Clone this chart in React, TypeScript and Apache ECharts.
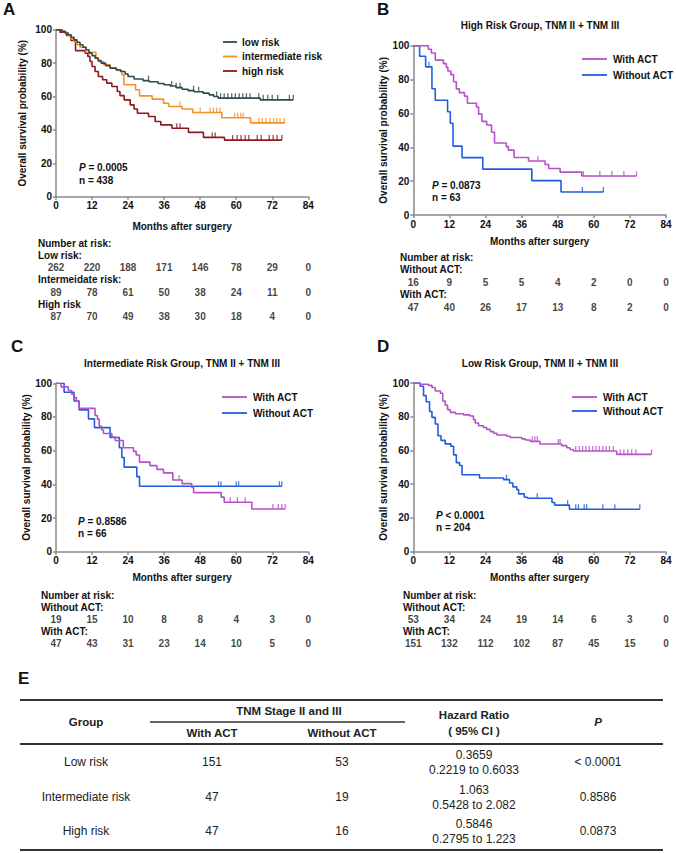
import React, { useEffect, useRef } from 'react';
import * as echarts from 'echarts';

const FONT = '"Liberation Sans", Arial, Helvetica, sans-serif';

// ---------- data ----------
const riskMonths = [0, 12, 24, 36, 48, 60, 72, 84];

// Panel A
const lowRiskCurve: number[][] = [[0,100],[1.9,99],[3,98],[4,97],[5,95.5],[6,94],[7,92.5],[8,91],[9,89.5],[10,88],[11,86],[12,84.5],[13,83],[14,81.5],[15,80],[16.5,78.5],[18,77],[20,76],[21.5,75],[23,73.5],[24,72],[26,70.5],[29,69.5],[31,68.8],[34,67.8],[36,67],[38,66.3],[40,65.3],[42,64.3],[44,63.5],[46,62.8],[49,62],[51,61],[52.5,60],[54,59],[68,58],[79,58]];
const lowRiskCensor = [30.8, 38.5, 40, 41.3, 45.8, 47.5, 53.5, 54.8, 56, 57.2, 58.5, 59.7, 61, 62.2, 63.4, 64.6, 67.5, 69, 70.5, 72, 73.8, 77.7, 79];
const intRiskCurve: number[][] = [[0,100],[2,99],[3,98],[4,96.8],[5,94.5],[6,92.8],[7,91],[8,89.5],[10,86.5],[13.3,83],[14.1,81],[15.8,79],[18,77],[20.2,75.6],[21.9,73],[22.6,67],[26.5,64],[27.8,60.4],[32,58.4],[35.8,56],[37.5,54],[42,52.5],[45.5,50.4],[55.2,47.3],[64.8,44.2],[76.2,44.2]];
const intRiskCensor = [41.3, 48, 51.3, 52.4, 53.5, 54.6, 59.5, 60.5, 61.5, 62.3, 67.5, 68.6, 70, 71.3, 72.5, 73.5, 74.6, 76];
const highRiskCurve: number[][] = [[0,100],[1.3,98.5],[3.5,96.5],[5,93.5],[6.5,87.5],[9.7,86],[10.6,84],[11.3,81],[12,78],[13,75],[14.1,72],[15.5,70],[16.9,68],[18.6,66],[20.4,63],[21.3,60.5],[22.7,58],[24.7,55],[26,52.5],[27.1,50],[30.8,48],[33,45],[34.9,43],[38.6,41],[44.1,38.5],[49.1,35.5],[56.1,33.9],[75.2,33.9]];
const highRiskCensor = [40.2, 41.3, 52, 53, 58.8, 60.3, 61.6, 63, 64.2, 67, 68.3, 71, 72.3, 73.6, 75.2];

// Panel B (high risk group)
const bWithCurve: number[][] = [[0,100],[5,97.9],[6,95.7],[7.3,91.5],[10,89.4],[11,87.2],[11.5,85.1],[12.5,82.9],[13.4,78.7],[14.3,74.5],[15.3,72.3],[17,70.2],[18,66],[21,63.8],[21.7,59.6],[22.8,55.3],[24.4,53.2],[26,48.9],[27,42.5],[30.9,40.4],[31.6,38.3],[33.5,34],[38.3,31.9],[43.8,29.8],[45,27.5],[48.8,25.3],[56,23],[74.2,23]];
const bWithCensor = [41.4, 56.5, 62, 66, 70, 74.2];
const bWithoutCurve: number[][] = [[0,100],[2.1,93.8],[4.1,87.5],[6.2,74.6],[7.3,67.8],[11.4,61],[12.3,54.2],[13.2,40.7],[16.2,33.9],[23.1,27.1],[39.4,20.3],[49.1,13.6],[63.2,13.6]];
const bWithoutCensor = [5.2, 56.2, 63.2];

// Panel C (intermediate risk group)
const cWithCurve: number[][] = [[0,100],[1.7,97.9],[4.1,95.7],[5.2,93.6],[6,91.5],[6.8,89.4],[7.7,85.1],[13,80.9],[13.8,78.7],[14.4,74.5],[15.2,72.3],[15.8,70.2],[18.6,68.1],[19.7,66],[22.4,61.7],[25.8,59.6],[26.7,57.4],[27.8,53.2],[31.3,51.1],[33.6,48.9],[35.8,46.8],[38.9,42.6],[42,40.4],[45.2,38.1],[45.8,35.1],[55,32.4],[56,29.4],[65.2,25.4],[76.3,25.4]];
const cWithCensor = [41, 58, 60.4, 63, 72.2, 74, 75.2, 76.3];
const cWithoutCurve: number[][] = [[0,100],[2.7,94.7],[6,89.5],[7.7,84.2],[10.8,78.9],[12.8,73.7],[18,67.8],[21.1,61.7],[21.9,55.9],[22.7,50.2],[26.9,44.6],[27.8,38.9],[75.2,38.9]];
const cWithoutCensor = [54.1, 54.9, 60, 60.8, 74.4, 75.2];

// Panel D (low risk group)
const dWithCurve: number[][] = [[0,100],[2.3,99.3],[5,98.6],[6.2,97.3],[7.3,95.3],[9,93.9],[9.8,89.3],[10.6,86.8],[11.4,84.2],[12.3,82.6],[14,81.8],[16.7,81.1],[18.9,80.4],[20,78.3],[20.6,76.3],[21.7,74.7],[23.3,73.6],[24.4,72.5],[25.6,71.2],[26.7,70.2],[27.8,69.2],[31.1,68.4],[32.2,67.7],[36.1,66.9],[37.2,66.2],[38.8,65.4],[42.1,63.8],[49.3,62.9],[51,61.6],[52.1,60.6],[53.2,59.7],[67.6,57.7],[79.2,57.7]];
const dWithCensor = [39.5, 40.4, 41.2, 48.2, 48.8, 54, 55.2, 56.3, 57.4, 58.5, 59.6, 60.7, 61.8, 63, 64.1, 65.2, 66.5, 68.8, 70, 71.3, 72.6, 74, 79.2];
const dWithoutCurve: number[][] = [[0,100],[2.3,98.1],[3.4,92.5],[4.3,88.9],[5.4,83.1],[6.2,79.6],[7.3,75.7],[8.2,68.7],[9.2,66],[10.6,63.9],[12.5,62.5],[13.4,57.4],[14.3,52.8],[15.4,51.1],[16.2,45.6],[22,43.7],[30,42.7],[32,40.7],[33.1,38.4],[34.4,36.8],[35,34.3],[36.9,32.3],[38,31.7],[46.1,29.2],[47,27.6],[51.9,25.2],[75.3,25.2]];
const dWithoutCensor = [31, 41.2, 51.3, 54, 54.9, 56.8, 57.6, 63, 67, 75.3];

// Numbers at risk
const atRiskALow = [262, 220, 188, 171, 146, 78, 29, 0];
const atRiskAInt = [89, 78, 61, 50, 38, 24, 11, 0];
const atRiskAHigh = [87, 70, 49, 38, 30, 18, 4, 0];
const atRiskBWithout = [16, 9, 5, 5, 4, 2, 0, 0];
const atRiskBWith = [47, 40, 26, 17, 13, 8, 2, 0];
const atRiskCWithout = [19, 15, 10, 8, 8, 4, 3, 0];
const atRiskCWith = [47, 43, 31, 23, 14, 10, 5, 0];
const atRiskDWithout = [53, 34, 24, 19, 14, 6, 3, 0];
const atRiskDWith = [151, 132, 112, 102, 87, 45, 15, 0];

// Table E
const tableGroups = ['Low risk', 'Intermediate risk', 'High risk'];
const tableWithACT = [151, 47, 47];
const tableWithoutACT = [53, 19, 16];
const tableHR = ['0.3659', '1.063', '0.5846'];
const tableCI = ['0.2219 to 0.6033', '0.5428 to 2.082', '0.2795 to 1.223'];
const tableP = ['< 0.0001', '0.8586', '0.0873'];

// ---------- styles ----------
const C_LOW = '#2f4a50';
const C_INT = '#f39128';
const C_HIGH = '#8b1a1c';
const C_WITH = '#b552c9';
const C_WITHOUT = '#1f5ce0';
const AXIS_GREY = '#8a8a8a';

function stepValue(curve: number[][], t: number) {
  let v = curve[0][1];
  for (const p of curve) {
    if (p[0] <= t + 1e-9) v = p[1];
    else break;
  }
  return v;
}

const panels = [
  {
    grid: { left: 56, top: 29.7, width: 252.3, height: 167 }, yGap: 29, xGap: 25,
    curves: [
      { name: 'high risk', color: C_HIGH, data: highRiskCurve, censor: highRiskCensor },
      { name: 'intermediate risk', color: C_INT, data: intRiskCurve, censor: intRiskCensor },
      { name: 'low risk', color: C_LOW, data: lowRiskCurve, censor: lowRiskCensor },
    ],
    atRisk: [atRiskALow, atRiskAInt, atRiskAHigh], riskTop: 267.6, riskStep: 24.6,
  },
  {
    grid: { left: 413.3, top: 45.7, width: 252.7, height: 169.3 }, yGap: 21, xGap: 21,
    curves: [
      { name: 'Without ACT', color: C_WITHOUT, data: bWithoutCurve, censor: bWithoutCensor },
      { name: 'With ACT', color: C_WITH, data: bWithCurve, censor: bWithCensor },
    ],
    atRisk: [atRiskBWithout, atRiskBWith], riskTop: 282, riskStep: 25,
  },
  {
    grid: { left: 56, top: 383.3, width: 252.3, height: 168.4 }, yGap: 21, xGap: 21,
    curves: [
      { name: 'Without ACT', color: C_WITHOUT, data: cWithoutCurve, censor: cWithoutCensor },
      { name: 'With ACT', color: C_WITH, data: cWithCurve, censor: cWithCensor },
    ],
    atRisk: [atRiskCWithout, atRiskCWith], riskTop: 619, riskStep: 24,
  },
  {
    grid: { left: 413.3, top: 383, width: 252.7, height: 168.7 }, yGap: 21, xGap: 21,
    curves: [
      { name: 'Without ACT', color: C_WITHOUT, data: dWithoutCurve, censor: dWithoutCensor },
      { name: 'With ACT', color: C_WITH, data: dWithCurve, censor: dWithCensor },
    ],
    atRisk: [atRiskDWithout, atRiskDWith], riskTop: 619, riskStep: 24,
  },
];

function txt(x: number, y: number, text: string, opt: any = {}) {
  return {
    type: 'text', x, y, silent: true,
    style: {
      text,
      fill: opt.fill || '#111',
      fontSize: opt.size || 10,
      fontWeight: opt.weight || 'bold',
      fontStyle: opt.italic ? 'italic' : 'normal',
      fontFamily: FONT,
      textAlign: opt.align || 'left',
      textVerticalAlign: 'middle',
      ...(opt.rich ? { rich: opt.rich } : {}),
    },
  };
}
function hline(x1: number, x2: number, y: number, w: number, color = '#333') {
  return { type: 'line', silent: true, shape: { x1, y1: y, x2, y2: y }, style: { stroke: color, lineWidth: w } };
}
const pRich = { i: { fontStyle: 'italic', fontWeight: 'bold', fontSize: 10, fontFamily: FONT, fill: '#111' } };

function buildOption() {
  const grid: any[] = [];
  const xAxis: any[] = [];
  const yAxis: any[] = [];
  const series: any[] = [];

  panels.forEach((p, i) => {
    grid.push({ ...p.grid });
    xAxis.push({
      type: 'value', gridIndex: i, min: 0, max: 84, interval: 12,
      axisLine: { show: true, onZero: false, lineStyle: { color: AXIS_GREY, width: 1.5 } },
      axisTick: { show: true, length: 3, lineStyle: { color: AXIS_GREY, width: 1.5 } },
      axisLabel: { color: '#111', fontWeight: 'bold', fontSize: 10, margin: 4, fontFamily: FONT },
      splitLine: { show: false },
      name: 'Months after surgery', nameLocation: 'middle', nameGap: p.xGap,
      nameTextStyle: { color: '#111', fontWeight: 'bold', fontSize: 10, fontFamily: FONT },
    });
    yAxis.push({
      type: 'value', gridIndex: i, min: 0, max: 100, interval: 20,
      axisLine: { show: true, onZero: false, lineStyle: { color: AXIS_GREY, width: 1.5 } },
      axisTick: { show: true, length: 3, lineStyle: { color: AXIS_GREY, width: 1.5 } },
      axisLabel: { color: '#111', fontWeight: 'bold', fontSize: 10, margin: 4, fontFamily: FONT },
      splitLine: { show: false },
      name: 'Overall survival probability (%)', nameLocation: 'middle', nameGap: p.yGap, nameRotate: 90,
      nameTextStyle: { color: '#111', fontWeight: 'bold', fontSize: 10, fontFamily: FONT },
    });
    p.curves.forEach((c) => {
      series.push({
        type: 'line', name: c.name, xAxisIndex: i, yAxisIndex: i, step: 'end',
        showSymbol: false, symbol: 'none', data: c.data, silent: true,
        lineStyle: { color: c.color, width: 1.6 }, itemStyle: { color: c.color }, z: 3,
      });
      series.push({
        type: 'scatter', name: c.name + ' censored', xAxisIndex: i, yAxisIndex: i,
        symbol: 'rect', symbolSize: [1.3, 5], symbolOffset: [0, -2.5], silent: true,
        itemStyle: { color: c.color }, z: 4,
        data: c.censor.map((t) => [t, stepValue(c.data, t)]),
      });
    });
  });

  panels.forEach((p, j) => {
    const gi = panels.length + j;
    const n = p.atRisk.length;
    grid.push({ left: p.grid.left, width: p.grid.width, top: p.riskTop, height: p.riskStep * (n - 1) });
    xAxis.push({ type: 'value', gridIndex: gi, min: 0, max: 84, show: false });
    yAxis.push({ type: 'value', gridIndex: gi, min: 0, max: n - 1, inverse: true, show: false });
    p.atRisk.forEach((vals, r) => {
      series.push({
        type: 'scatter', xAxisIndex: gi, yAxisIndex: gi, symbolSize: 1, silent: true,
        itemStyle: { color: 'rgba(0,0,0,0)' },
        label: {
          show: true, position: 'inside', color: '#111', fontSize: 10, fontWeight: 'bold', fontFamily: FONT,
          formatter: (q: any) => String(q.value[2]),
        },
        data: riskMonths.map((m, k) => [m, r, vals[k]]),
      });
    });
  });

  const g: any[] = [];
  // panel letters
  g.push(txt(3, 9, 'A', { size: 17 }));
  g.push(txt(377, 9, 'B', { size: 17 }));
  g.push(txt(11, 346, 'C', { size: 17 }));
  g.push(txt(377, 346, 'D', { size: 17 }));
  g.push(txt(18, 678, 'E', { size: 17 }));

  // titles
  g.push(txt(540, 25, 'High Risk Group, TNM II + TNM III', { align: 'center' }));
  g.push(txt(182, 363, 'Intermediate Risk Group, TNM II + TNM III', { align: 'center' }));
  g.push(txt(540, 363, 'Low Risk Group, TNM II + TNM III', { align: 'center' }));

  // legends
  const legend = (x1: number, x2: number, tx: number, items: [string, string, number][]) => {
    items.forEach(([label, color, y]) => {
      g.push({ type: 'line', silent: true, shape: { x1, y1: y, x2, y2: y }, style: { stroke: color, lineWidth: 1.8 } });
      g.push(txt(tx, y, label));
    });
  };
  legend(223, 237, 242, [['low risk', C_LOW, 42], ['intermediate risk', C_INT, 56.5], ['high risk', C_HIGH, 71]]);
  legend(582, 607, 613, [['With ACT', C_WITH, 59], ['Without ACT', C_WITHOUT, 75]]);
  legend(222, 247, 253, [['With ACT', C_WITH, 397], ['Without ACT', C_WITHOUT, 413]]);
  legend(572, 597, 603, [['With ACT', C_WITH, 397], ['Without ACT', C_WITHOUT, 411]]);

  // P values
  g.push(txt(79, 167, '{i|P} = 0.0005', { rich: pRich }));
  g.push(txt(79, 180, 'n = 438'));
  g.push(txt(432, 185, '{i|P} = 0.0873', { rich: pRich }));
  g.push(txt(432, 197.5, 'n = 63'));
  g.push(txt(78, 521, '{i|P} = 0.8586', { rich: pRich }));
  g.push(txt(78, 533, 'n = 66'));
  g.push(txt(436, 515, '{i|P} < 0.0001', { rich: pRich }));
  g.push(txt(436, 527, 'n = 204'));

  // number-at-risk labels
  const riskLabels = (x: number, ys: number[], labels: string[]) => labels.forEach((l, k) => g.push(txt(x, ys[k], l)));
  riskLabels(38, [243, 255.3, 279.9, 304.5], ['Number at risk:', 'Low risk:', 'Intermeidate risk:', 'High risk']);
  riskLabels(400, [257, 269.5, 294.5], ['Number at risk:', 'Without ACT:', 'With ACT:']);
  riskLabels(41, [595, 607, 631], ['Number at risk:', 'Without ACT:', 'With ACT:']);
  riskLabels(403, [595, 607, 631], ['Number at risk:', 'Without ACT:', 'With ACT:']);

  // Table E
  const TL = 20, TR = 663;
  const colGroup = 86, colWith = 212, colWithout = 342, colHR = 474, colP = 598;
  g.push(hline(TL, TR, 700, 2));
  g.push(txt(colGroup, 722, 'Group', { size: 11.5, fill: '#222', align: 'center' }));
  g.push(txt((colWith + colWithout) / 2 + 12, 711, 'TNM Stage II and III', { size: 11.5, align: 'center', fill: '#222' }));
  g.push(hline(150, 405, 722, 1.3));
  g.push(txt(colWith, 733, 'With ACT', { size: 11.5, align: 'center', fill: '#222' }));
  g.push(txt(colWithout, 733, 'Without ACT', { size: 11.5, align: 'center', fill: '#222' }));
  g.push(txt(colHR, 715, 'Hazard Ratio', { size: 11.5, align: 'center', fill: '#222' }));
  g.push(txt(colHR, 731, '( 95% CI )', { size: 11.5, align: 'center', fill: '#222' }));
  g.push(txt(colP, 722, 'P', { size: 11.5, align: 'center', italic: true, fill: '#222' }));
  g.push(hline(TL, TR, 744, 2));
  const rowY = [762, 797, 831];
  tableGroups.forEach((grp, r) => {
    const y = rowY[r];
    const o = { size: 12, weight: 'normal', align: 'center', fill: '#222' };
    g.push(txt(colGroup, y, grp, o));
    g.push(txt(colWith, y, String(tableWithACT[r]), o));
    g.push(txt(colWithout, y, String(tableWithoutACT[r]), o));
    g.push(txt(colHR, y - 7.5, tableHR[r], o));
    g.push(txt(colHR, y + 7.5, tableCI[r], o));
    g.push(txt(colP, y, tableP[r], o));
  });
  g.push(hline(TL, TR, 850, 2));

  return {
    animation: false,
    backgroundColor: '#ffffff',
    grid, xAxis, yAxis, series,
    graphic: { elements: g },
  };
}

export default function App() {
  const ref = useRef<HTMLDivElement>(null);
  useEffect(() => {
    if (!ref.current) return;
    const chart = echarts.init(ref.current, undefined, { renderer: 'svg' });
    chart.setOption(buildOption() as any);
    return () => chart.dispose();
  }, []);
  return (
    <div
      ref={ref}
      style={{ position: 'absolute', left: 0, top: 0, width: 676, height: 853, background: '#fff' }}
    />
  );
}
